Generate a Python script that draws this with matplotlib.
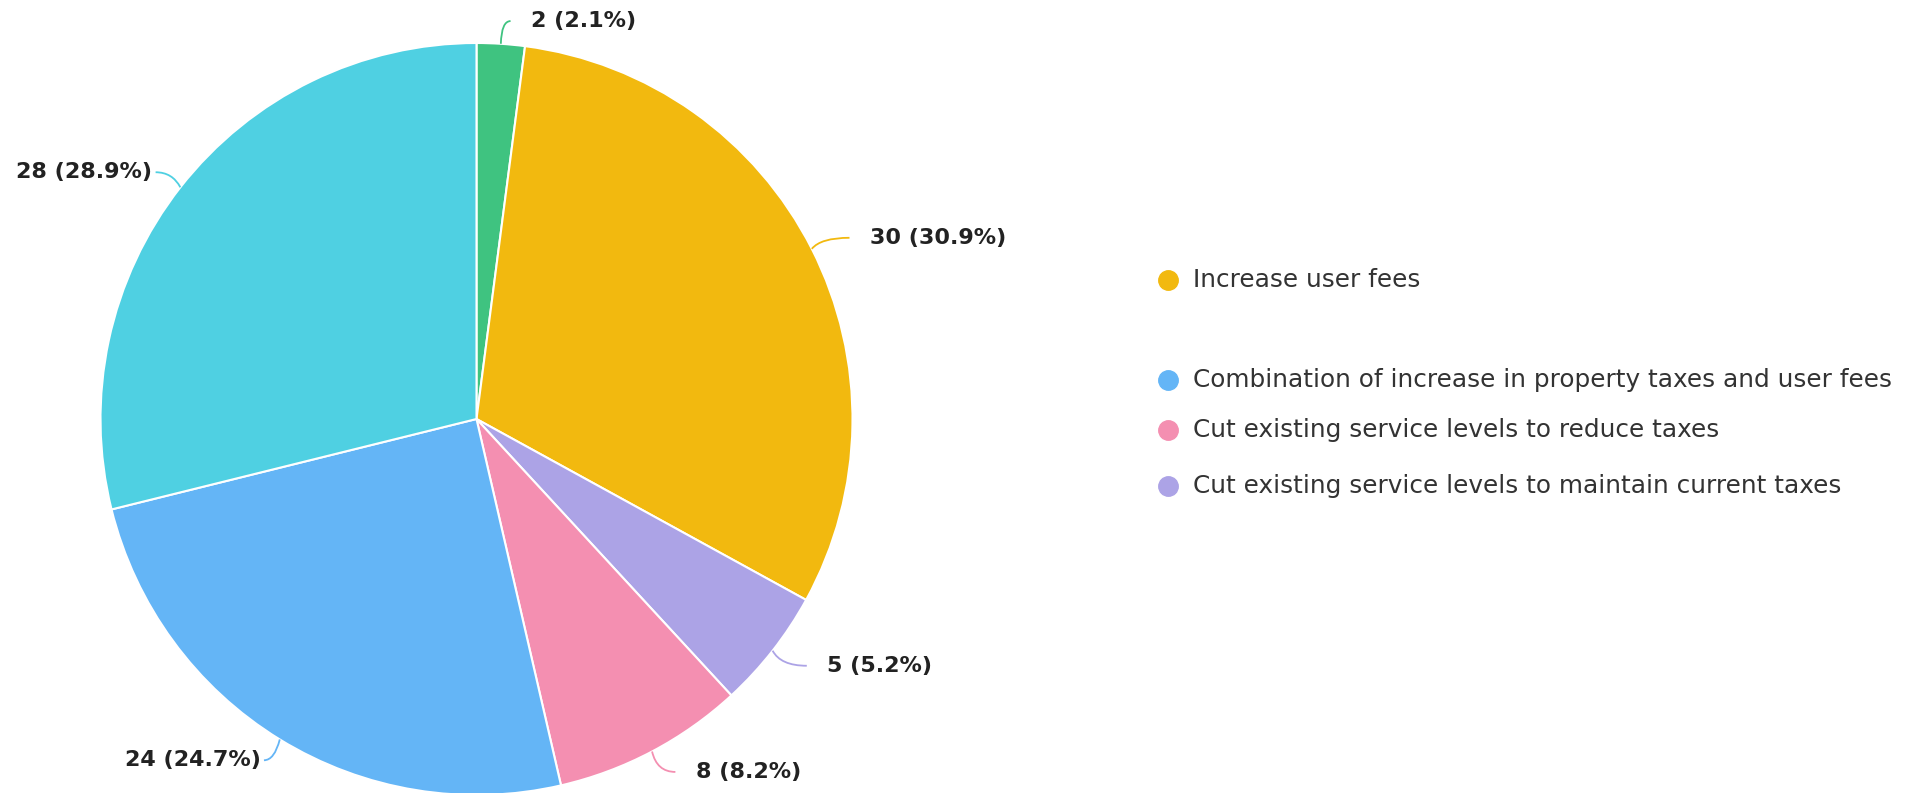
import numpy as np
import matplotlib.pyplot as plt
from matplotlib.path import Path
from matplotlib.patches import PathPatch

# slices, clockwise from 12 o'clock
counts = [2, 30, 5, 8, 24, 28]
colors = ["#3fc380", "#f2b90f", "#aca3e6", "#f48fb1", "#64b5f6", "#4fd0e2"]

legend_names = ["Increase user fees",
                "Combination of increase in property taxes and user fees",
                "Cut existing service levels to reduce taxes",
                "Cut existing service levels to maintain current taxes"]
legend_colors = ["#f2b90f", "#64b5f6", "#f48fb1", "#aca3e6"]
legend_y = [280, 380, 430, 486]  # pixel rows of the legend items

W, H = 1906, 793
cx, cy, R = 476.5, 419, 376  # pie centre / radius in pixels

fig = plt.figure(figsize=(W / 100, H / 100), dpi=100)
ax = fig.add_axes([0, 0, 1, 1])
wedges, _ = ax.pie(counts, colors=colors, startangle=90, counterclock=False,
                   wedgeprops=dict(edgecolor="white", linewidth=1.5))
ymin, ymax = -(H - cy) / R, cy / R
ax.set_xlim(-cx / R, (W - cx) / R)
ax.set_ylim(ymin, ymax)
ax.set_aspect("auto")
ax.axis("off")

total = sum(counts)
for w, n, c in zip(wedges, counts, colors):
    th = np.deg2rad((w.theta1 + w.theta2) / 2)
    ex, ey = np.cos(th), np.sin(th)
    lx, ly = 1.09 * ex, 1.065 * ey
    ly = min(max(ly, ymin + 0.056), ymax - 0.056)
    side = 1 if ex >= 0 else -1
    ctrl = (ex + (lx - ex) * 0.3, ly)
    if side > 0:
        end = (lx + 0.02, ly)
        tx = end[0] + 0.055
    else:
        end = (lx + 0.005, ly)
        tx = lx - 0.004
    path = Path([(ex, ey), ctrl, end], [Path.MOVETO, Path.CURVE3, Path.CURVE3])
    ax.add_patch(PathPatch(path, fc="none", ec=c, lw=1.3))
    ax.text(tx, ly, f"{n} ({n / total * 100:.1f}%)", ha="left" if side > 0 else "right",
            va="center", fontsize=16, fontweight="bold", color="#222222")

for name, c, y in zip(legend_names, legend_colors, legend_y):
    ax.plot(1168 / W, 1 - y / H, "o", ms=14, color=c, transform=fig.transFigure, clip_on=False)
    fig.text(1193 / W, 1 - y / H, name, ha="left", va="center", fontsize=17.8, color="#333333")

fig.savefig("out.png", dpi=100)
